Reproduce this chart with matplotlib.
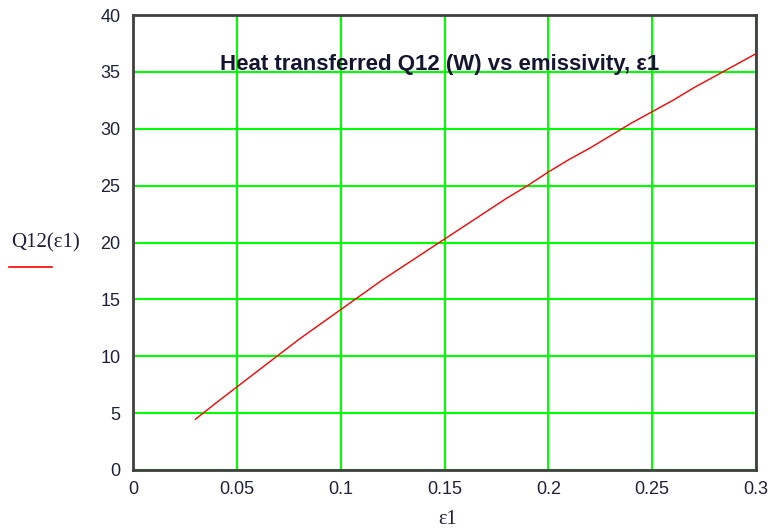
import matplotlib
matplotlib.use("Agg")
import matplotlib.pyplot as plt
from matplotlib.lines import Line2D

# Data
eps1 = [0.03, 0.04, 0.05, 0.06, 0.07, 0.08, 0.09, 0.10, 0.11, 0.12, 0.13, 0.14,
        0.15, 0.16, 0.17, 0.18, 0.19, 0.20, 0.21, 0.22, 0.23, 0.24, 0.25, 0.26,
        0.27, 0.28, 0.29, 0.30]
q12 = [4.46, 5.9, 7.3, 8.7, 10.1, 11.5, 12.8, 14.1, 15.4, 16.7, 17.9, 19.1,
       20.3, 21.5, 22.7, 23.9, 25.0, 26.2, 27.3, 28.3, 29.4, 30.5, 31.5, 32.5,
       33.6, 34.6, 35.6, 36.6]
x_ticks = [0, 0.05, 0.1, 0.15, 0.2, 0.25, 0.3]
x_tick_labels = ["0", "0.05", "0.1", "0.15", "0.2", "0.25", "0.3"]
y_ticks = [0, 5, 10, 15, 20, 25, 30, 35, 40]
y_tick_labels = ["0", "5", "10", "15", "20", "25", "30", "35", "40"]
title = "Heat transferred Q12 (W) vs emissivity, \u03b51"
xlabel = "\u03b51"
ylabel = "Q12(\u03b51)"

W, H = 772, 532
fig = plt.figure(figsize=(W / 100, H / 100), dpi=100)
ax = fig.add_axes([133 / W, 1 - 470 / H, (756 - 133) / W, (470 - 15) / H])

ax.set_xlim(0, 0.3)
ax.set_ylim(0, 40)
ax.set_xticks(x_ticks)
ax.set_yticks(y_ticks)
ax.set_xticklabels(x_tick_labels)
ax.set_yticklabels(y_tick_labels)

tick_color = "#20203a"
for lab in ax.get_xticklabels() + ax.get_yticklabels():
    lab.set_fontfamily("Liberation Sans")
    lab.set_fontsize(13)
    lab.set_color(tick_color)
ax.tick_params(axis="both", length=0)
ax.tick_params(axis="x", pad=8)
ax.tick_params(axis="y", pad=9)

ax.grid(True, color="#00ff00", linewidth=1.5)
ax.set_axisbelow(True)
for s in ax.spines.values():
    s.set_color("#404040")
    s.set_linewidth(2)

ax.plot(eps1, q12, color="#ff0000", linewidth=1.0, zorder=3)

ax.text(0.492, 0.892, title, transform=ax.transAxes, ha="center", va="center",
        fontsize=16, fontweight="bold", family="Liberation Sans", color="#151530",
        zorder=4)

fig.text(448 / W, 1 - 520 / H, xlabel, ha="center", va="center",
         fontsize=14.5, family="Liberation Serif", color=tick_color)
fig.text(11 / W, 1 - 243 / H, ylabel, ha="left", va="center",
         fontsize=15, family="Liberation Serif", color=tick_color)
fig.add_artist(Line2D([9 / W, 52 / W], [1 - 267 / H, 1 - 267 / H],
                      color="#ff0000", linewidth=1.2, transform=fig.transFigure))

fig.savefig("out.png", dpi=100)
